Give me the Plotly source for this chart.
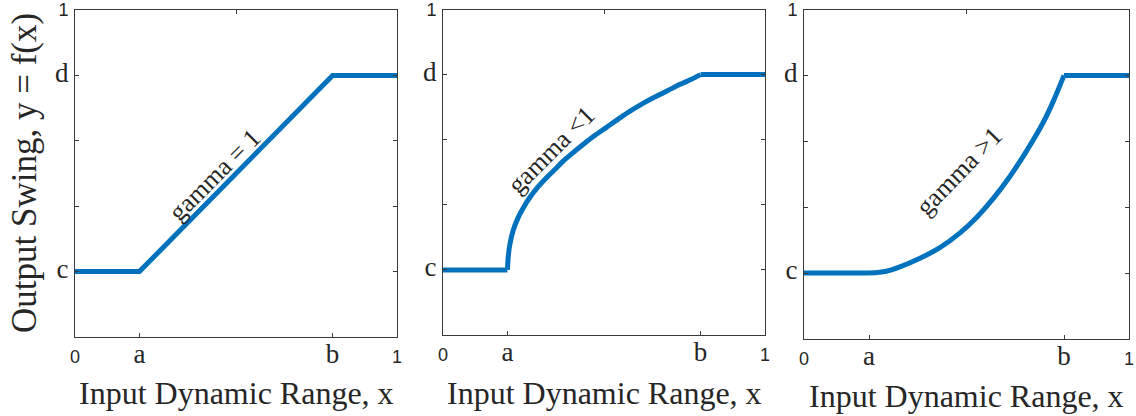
import plotly.graph_objects as go

# ---------------- data ----------------
x_lin = [0.0, 0.2, 0.8, 1.0]
y_lin = [0.2, 0.2, 0.8, 0.8]

x_low = [0.0, 0.2, 0.203, 0.208, 0.218, 0.234, 0.25, 0.27, 0.295, 0.322, 0.35, 0.374,
         0.405, 0.436, 0.47, 0.508, 0.545, 0.581, 0.62, 0.664, 0.70, 0.736, 0.77, 0.80, 1.0]
y_low = [0.2, 0.2, 0.245, 0.28, 0.322, 0.362, 0.392, 0.423, 0.455, 0.484, 0.511, 0.535,
         0.561, 0.586, 0.612, 0.638, 0.664, 0.688, 0.711, 0.734, 0.752, 0.770, 0.785, 0.80, 0.80]

x_high = [0.0, 0.2, 0.25, 0.295, 0.357, 0.418, 0.48, 0.531, 0.582, 0.634, 0.685, 0.736,
          0.77, 0.80, 1.0]
y_high = [0.2, 0.2, 0.205, 0.219, 0.245, 0.277, 0.322, 0.369, 0.426, 0.494, 0.571, 0.657,
          0.728, 0.80, 0.80]

x_tickvals = [0, 0.2, 0.8, 1]
x_ticklabels = ["0", "a", "b", "1"]
y_tickvals = [0.2, 0.4, 0.6, 0.8, 1.0]
y_ticklabels = ["c", "", "", "d", "1"]
curve_labels = ["gamma = 1", "gamma <1", "gamma >1"]
x_title = "Input Dynamic Range, x"
y_title = "Output Swing, y = f(x)"

# ---------------- styling ----------------
BLUE = "#0072BD"
TXT = "#262626"
AX = "#3a3a3a"
SERIF = "Liberation Serif"
SANS = "Liberation Sans"
W, H = 1136, 416


def lab(t, serif_size=27):
    if t in ("0", "1"):
        return t
    if t == "":
        return ""
    return f'<span style="font-family:{SERIF};font-size:{serif_size}px">{t}</span>'


panels = [
    # (xdomain px, ydomain px top/bottom, x, y, label pos, angle, smooth)
    ((75, 397), (10, 337), x_lin, y_lin, (0.432, 0.495), -45, False),
    ((443, 765), (9.5, 335), x_low, y_low, (0.338, 0.569), -45, True),
    ((804, 1129), (9.5, 339), x_high, y_high, (0.477, 0.508), -46, True),
]

fig = go.Figure()
layout = dict(
    width=W, height=H, margin=dict(l=0, r=0, t=0, b=0, autoexpand=False),
    paper_bgcolor="white", plot_bgcolor="white", showlegend=False,
    annotations=[],
)

for i, (xd, yd, xs, ys, lp, ang, smooth) in enumerate(panels):
    n = i + 1
    xa = "x" if n == 1 else f"x{n}"
    ya = "y" if n == 1 else f"y{n}"
    xk = "xaxis" if n == 1 else f"xaxis{n}"
    yk = "yaxis" if n == 1 else f"yaxis{n}"
    line = dict(color=BLUE, width=5)
    if smooth:
        # flat parts straight, curved part smoothed
        fig.add_trace(go.Scatter(x=xs[:2], y=ys[:2], mode="lines", xaxis=xa, yaxis=ya,
                                 line=line, hoverinfo="skip"))
        fig.add_trace(go.Scatter(x=xs[1:-1], y=ys[1:-1], mode="lines", xaxis=xa, yaxis=ya,
                                 line=dict(color=BLUE, width=5, shape="spline", smoothing=0.6),
                                 hoverinfo="skip"))
        fig.add_trace(go.Scatter(x=xs[-2:], y=ys[-2:], mode="lines", xaxis=xa, yaxis=ya,
                                 line=line, hoverinfo="skip"))
    else:
        fig.add_trace(go.Scatter(x=xs, y=ys, mode="lines", xaxis=xa, yaxis=ya,
                                 line=line, hoverinfo="skip"))
    layout[xk] = dict(
        domain=[xd[0] / W, xd[1] / W], anchor=ya, range=[0, 1],
        tickvals=x_tickvals, ticktext=[lab(t) for t in x_ticklabels],
        ticks="inside", ticklen=4, tickcolor=AX, tickwidth=1,
        showline=True, linecolor=AX, linewidth=1, mirror=True,
        showgrid=False, zeroline=False, fixedrange=True, ticklabeloverflow="allow",
        tickfont=dict(family=SANS, size=18, color=TXT), ticklabelstandoff=3,
    )
    layout[yk] = dict(
        domain=[1 - yd[1] / H, 1 - yd[0] / H], anchor=xa, range=[0, 1],
        tickvals=y_tickvals, ticktext=[lab(t) for t in y_ticklabels],
        ticks="inside", ticklen=4, tickcolor=AX, tickwidth=1,
        showline=True, linecolor=AX, linewidth=1, mirror="ticks",
        showgrid=False, zeroline=False, fixedrange=True, ticklabeloverflow="allow",
        tickfont=dict(family=SANS, size=18, color=TXT), ticklabelstandoff=2,
    )
    # top axis carrying only the middle tick
    tk = f"xaxis{n + 3}"
    layout[tk] = dict(
        overlaying=xa, anchor=ya, side="top", range=[0, 1],
        tickvals=[0.5], showticklabels=False, ticks="inside", ticklen=4,
        tickcolor=AX, tickwidth=1, showline=False, showgrid=False,
        zeroline=False, fixedrange=True,
    )
    layout["annotations"].append(dict(
        x=lp[0], y=lp[1], xref=xa, yref=ya, text=curve_labels[i], showarrow=False,
        textangle=ang, font=dict(family=SERIF, size=26, color=TXT),
        xanchor="center", yanchor="middle",
    ))
    # x title under each panel
    layout["annotations"].append(dict(
        x=(xd[0] + xd[1]) / 2 / W, y=1 - (393 + (i == 2) * 3) / H, xref="paper", yref="paper",
        text=x_title, showarrow=False, xanchor="center", yanchor="middle",
        font=dict(family=SERIF, size=32, color=TXT),
    ))

layout["annotations"].append(dict(
    x=24 / W, y=1 - 173 / H, xref="paper", yref="paper", text=y_title,
    showarrow=False, textangle=-90, xanchor="center", yanchor="middle",
    font=dict(family=SERIF, size=35, color=TXT),
))

# invisible traces so the top axes exist
for n in (4, 5, 6):
    fig.add_trace(go.Scatter(x=[0.5], y=[0.5], xaxis=f"x{n}", yaxis="y" if n == 4 else f"y{n - 3}",
                             mode="markers", marker=dict(opacity=0), hoverinfo="skip"))

fig.update_layout(**layout)
fig.write_html("out.html")
